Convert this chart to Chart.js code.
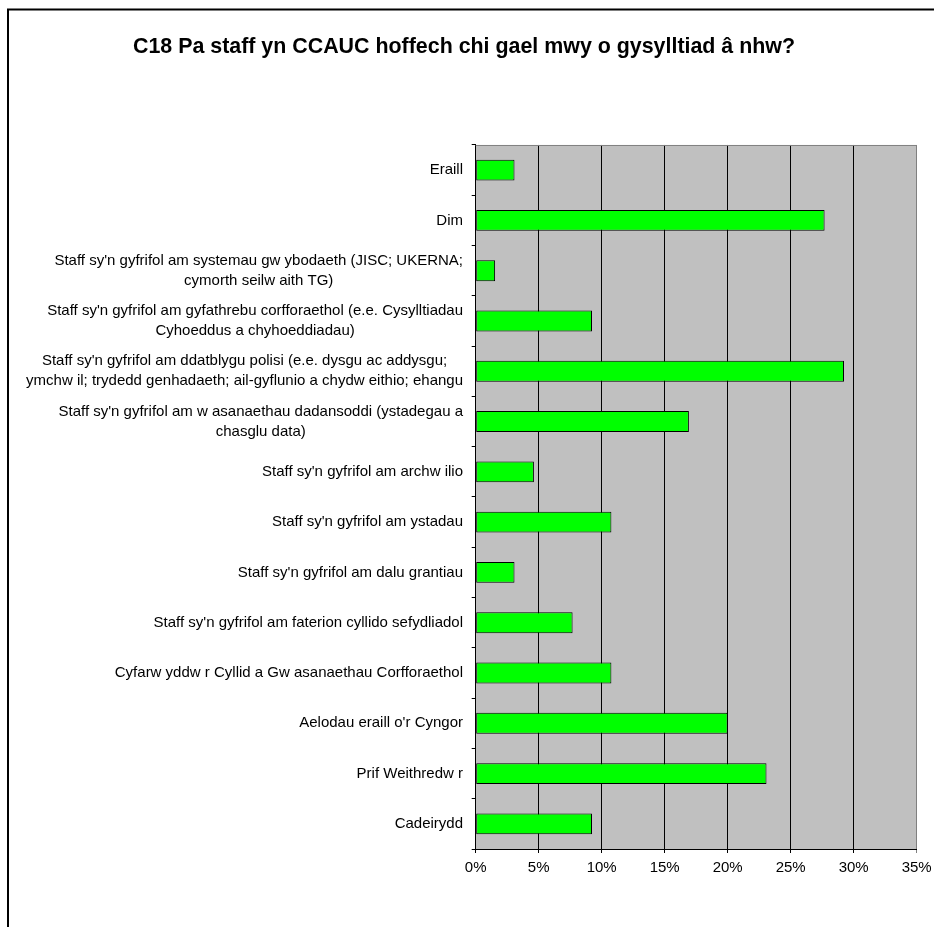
<!DOCTYPE html>
<html>
<head>
<meta charset="utf-8">
<script src="https://cdn.jsdelivr.net/npm/chart.js@4/dist/chart.umd.min.js"></script>
<style>
  html, body { margin: 0; padding: 0; background: #fff; overflow: hidden; }
  #wrap { position: absolute; left: 0; top: 0; width: 934px; height: 927px; }
</style>
</head>
<body>
<div id="wrap"><canvas id="c"></canvas></div>
<script>
const chartTitle = 'C18 Pa staff yn CCAUC hoffech chi gael mwy o gysylltiad â nhw?';

const categories = [
  ['Eraill'],
  ['Dim'],
  ["Staff sy'n gyfrifol am systemau gw ybodaeth (JISC; UKERNA;", 'cymorth seilw aith TG)'],
  ["Staff sy'n gyfrifol am gyfathrebu corfforaethol (e.e. Cysylltiadau", 'Cyhoeddus a chyhoeddiadau)'],
  ["Staff sy'n gyfrifol am ddatblygu polisi (e.e. dysgu ac addysgu;", 'ymchw il; trydedd genhadaeth; ail-gyflunio a chydw eithio; ehangu'],
  ["Staff sy'n gyfrifol am w asanaethau dadansoddi (ystadegau a", 'chasglu data)'],
  ["Staff sy'n gyfrifol am archw ilio"],
  ["Staff sy'n gyfrifol am ystadau"],
  ["Staff sy'n gyfrifol am dalu grantiau"],
  ["Staff sy'n gyfrifol am faterion cyllido sefydliadol"],
  ['Cyfarw yddw r Cyllid a Gw asanaethau Corfforaethol'],
  ["Aelodau eraill o'r Cyngor"],
  ['Prif Weithredw r'],
  ['Cadeirydd']
];

const values = [3.08, 27.69, 1.54, 9.23, 29.23, 16.92, 4.62, 10.77, 3.08, 7.69, 10.77, 20.0, 23.08, 9.23];

const xTicks = [0, 5, 10, 15, 20, 25, 30, 35];

const FONT = '"Liberation Sans", Arial, sans-serif';
const LABEL_SIZE = 15;
const LINE_H = 20;

const framePlugin = {
  id: 'framePlugin',
  beforeDraw(chart) {
    const { ctx, chartArea: a } = chart;
    ctx.save();
    ctx.fillStyle = '#fff';
    ctx.fillRect(0, 0, chart.width, chart.height);
    ctx.fillStyle = '#c0c0c0';
    ctx.fillRect(a.left, a.top, a.right - a.left, a.bottom - a.top);
    ctx.strokeStyle = '#000';
    ctx.lineWidth = 2;
    ctx.strokeRect(8, 9.5, chart.width + 40, chart.height + 40);
    ctx.restore();
  },
  afterDraw(chart) {
    const { ctx, chartArea: a } = chart;
    ctx.save();
    ctx.strokeStyle = '#808080';
    ctx.lineWidth = 1;
    ctx.beginPath();
    ctx.moveTo(a.left, a.top + 0.5);
    ctx.lineTo(a.right, a.top + 0.5);
    ctx.stroke();
    ctx.restore();
  }
};

const yLabelPlugin = {
  id: 'yLabelPlugin',
  afterDraw(chart) {
    const ys = chart.scales.y;
    const ctx = chart.ctx;
    ctx.save();
    ctx.font = LABEL_SIZE + 'px ' + FONT;
    ctx.fillStyle = '#000';
    ctx.textBaseline = 'middle';
    ctx.textAlign = 'center';
    const rightEdge = ys.right - 12.7;
    categories.forEach((lines, i) => {
      const yc = ys.getPixelForValue(i);
      const w = Math.max(...lines.map(l => ctx.measureText(l).width));
      const cx = rightEdge - w / 2;
      const n = lines.length;
      lines.forEach((l, j) => {
        ctx.fillText(l, cx, yc + (j - (n - 1) / 2) * LINE_H);
      });
    });
    ctx.restore();
  }
};

new Chart(document.getElementById('c'), {
  type: 'bar',
  data: {
    labels: categories,
    datasets: [{
      data: values,
      backgroundColor: '#00ff00',
      borderColor: '#000',
      borderWidth: 1,
      borderSkipped: false,
      categoryPercentage: 1,
      barPercentage: 0.415
    }]
  },
  options: {
    indexAxis: 'y',
    responsive: true,
    maintainAspectRatio: false,
    animation: false,
    devicePixelRatio: 1,
    layout: { padding: { left: 0, right: 6, top: 0, bottom: 48 } },
    plugins: {
      legend: { display: false },
      tooltip: { enabled: false },
      title: {
        display: true,
        text: chartTitle,
        color: '#000',
        font: { family: FONT, size: 21.4, weight: 'bold' },
        padding: { top: 34, bottom: 85.3 }
      }
    },
    scales: {
      y: {
        type: 'category',
        offset: true,
        grid: {
          display: true,
          offset: true,
          drawOnChartArea: false,
          drawTicks: true,
          tickLength: 4,
          color: '#000',
          lineWidth: 1
        },
        border: { display: true, color: '#000', width: 1 },
        ticks: { display: false },
        afterFit(s) { s.width = 475.7; }
      },
      x: {
        type: 'linear',
        min: 0,
        max: 35,
        afterBuildTicks(s) { s.ticks = xTicks.map(v => ({ value: v })); },
        grid: {
          color: (ctx) => ctx.index === xTicks.length - 1 ? '#808080' : '#000',
          lineWidth: 1,
          tickLength: 4,
          drawTicks: true
        },
        border: { display: true, color: '#000', width: 1 },
        ticks: {
          color: '#000',
          font: { family: FONT, size: LABEL_SIZE },
          padding: 6,
          maxRotation: 0,
          callback: (v) => v + '%'
        },
        afterFit(s) { s.height = 30; s.paddingLeft = 0; s.paddingRight = 17.3; }
      }
    }
  },
  plugins: [framePlugin, yLabelPlugin]
});
</script>
</body>
</html>
